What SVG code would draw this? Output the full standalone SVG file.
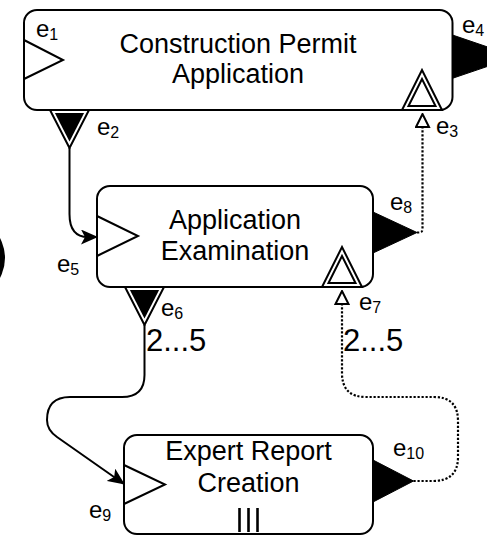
<svg xmlns="http://www.w3.org/2000/svg" width="487" height="536" viewBox="0 0 487 536">
<style>
.box{fill:#fff;stroke:#000;stroke-width:2}
.in{fill:none;stroke:#000;stroke-width:2;stroke-linejoin:miter}
.out{fill:#000;stroke:#000;stroke-width:1}
.dblo{fill:#fff;stroke:#000;stroke-width:2}
.dbli{fill:none;stroke:#000;stroke-width:2}
.dbfo{fill:#fff;stroke:#000;stroke-width:2}
.dbfi{fill:#000;stroke:none}
.t{font-family:"Liberation Sans",Arial,sans-serif;font-size:27px;fill:#000;text-anchor:middle}
.lbl{font-family:"Liberation Sans",Arial,sans-serif;font-size:24px;fill:#000}
.sub{font-size:16px}
.card{font-family:"Liberation Sans",Arial,sans-serif;font-size:31px;fill:#000}
.solid{fill:none;stroke:#000;stroke-width:2}
.dot{fill:none;stroke:#000;stroke-width:2.2;stroke-dasharray:2.2 1.8}
</style>
<defs>
<marker id="arrowSolid" markerUnits="userSpaceOnUse" viewBox="0 0 17 15" markerWidth="17" markerHeight="15" refX="16" refY="7.5" orient="auto"><path d="M0,0 L17,7.5 L0,15 L4,7.5 Z" fill="#000"/></marker>
<marker id="arrowOpen" markerUnits="userSpaceOnUse" viewBox="-1 -1 16 16" markerWidth="16" markerHeight="16" refX="1" refY="7" orient="auto"><path d="M1,0.5 L14,7 L1,13.5 Z" fill="#fff" stroke="#000" stroke-width="2"/></marker>
</defs>
<rect width="487" height="536" fill="#fff"/>
<circle id="partial-circle" cx="-37" cy="258" r="42" fill="#000"/>

<g id="connectors">
<path class="solid" d="M69.5,148 L69.5,214 Q69.5,237 88,237 L97,237" marker-end="url(#arrowSolid)"/>
<path class="solid" d="M144.5,325 L144.5,375 Q144.5,397 122,397 L70,397 Q47,397 47,420 Q47,430 57,437 L124,484" marker-end="url(#arrowSolid)"/>
<path class="dot" d="M417,232.5 L419,232.5 Q422.5,232.5 422.5,229 L422.5,127" marker-end="url(#arrowOpen)"/>
<path class="dot" d="M413.5,481 L433,481 Q458,481 458,457 L458,421 Q458,397 434,397 L366,397 Q342,397 342,373 L342,304" marker-end="url(#arrowOpen)"/>
<text class="card" x="146" y="351">2...5</text>
<text class="card" x="343" y="351">2...5</text>
</g>

<g id="node-construction-permit-application">
<rect class="box" x="24" y="10" width="428.5" height="100" rx="13"/>
<text class="t" x="238" y="53">Construction Permit</text>
<text class="t" x="238" y="83">Application</text>
<polyline class="in" points="24,40 63,60 24,79"/>
<polygon class="out" points="452.5,35 516,56.7 452.5,78.3"/>
<polygon class="dbfo" points="50,110 89,110 69.5,148"/>
<polygon class="dbfi" points="54.9,113 84.1,113 69.5,141.4"/>
<polygon class="dblo" points="402,110 442,110 422,70"/>
<polygon class="dbli" points="408.5,106 435.5,106 422,79"/>
<text class="lbl" x="36" y="37">e<tspan class="sub" dy="3">1</tspan></text>
<text class="lbl" x="97" y="135">e<tspan class="sub" dy="3">2</tspan></text>
<text class="lbl" x="436" y="134">e<tspan class="sub" dy="3">3</tspan></text>
<text class="lbl" x="462" y="32.5">e<tspan class="sub" dy="3">4</tspan></text>
</g>

<g id="node-application-examination">
<rect class="box" x="97" y="186" width="276" height="101" rx="13"/>
<text class="t" x="235" y="229">Application</text>
<text class="t" x="235" y="260">Examination</text>
<polyline class="in" points="97,216 138,236 97,256"/>
<polygon class="out" points="373,212 417,232.5 373,253"/>
<polygon class="dbfo" points="125,287 164,287 144.5,325"/>
<polygon class="dbfi" points="129.9,290 159.1,290 144.5,318.4"/>
<polygon class="dblo" points="322,287 362,287 342,247"/>
<polygon class="dbli" points="328.5,283 355.5,283 342,256"/>
<text class="lbl" x="57" y="272">e<tspan class="sub" dy="3">5</tspan></text>
<text class="lbl" x="161" y="316">e<tspan class="sub" dy="3">6</tspan></text>
<text class="lbl" x="359" y="310">e<tspan class="sub" dy="3">7</tspan></text>
<text class="lbl" x="390" y="210">e<tspan class="sub" dy="3">8</tspan></text>
</g>

<g id="node-expert-report-creation">
<rect class="box" x="124" y="435" width="249" height="99" rx="13"/>
<text class="t" x="248.5" y="460">Expert Report</text>
<text class="t" x="248.5" y="492">Creation</text>
<g stroke="#000" stroke-width="2.6">
<line x1="239.5" y1="508" x2="239.5" y2="532"/>
<line x1="248.5" y1="508" x2="248.5" y2="532"/>
<line x1="257.5" y1="508" x2="257.5" y2="532"/>
</g>
<polyline class="in" points="124,465 165,484.5 124,504"/>
<polygon class="out" points="373,460 413.5,481 373,502"/>
<text class="lbl" x="89" y="518">e<tspan class="sub" dy="3">9</tspan></text>
<text class="lbl" x="393" y="456">e<tspan class="sub" dy="3">10</tspan></text>
</g>
</svg>
